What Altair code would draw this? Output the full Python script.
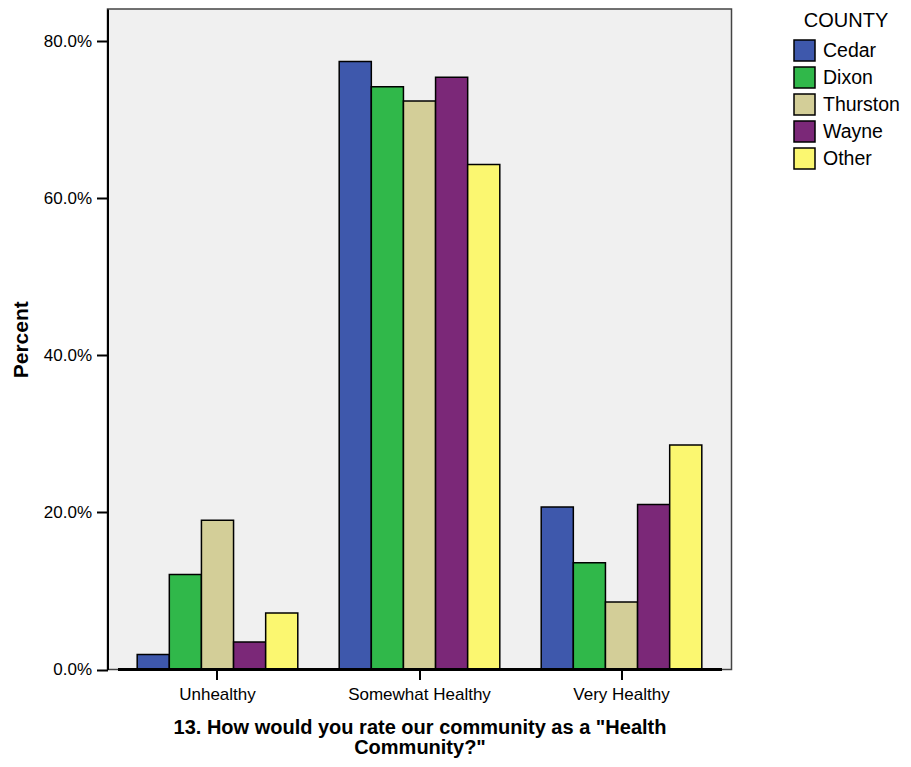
import altair as alt
import pandas as pd

categories = ["Unhealthy", "Somewhat Healthy", "Very Healthy"]
counties = ["Cedar", "Dixon", "Thurston", "Wayne", "Other"]
colors = ["#3e58ac", "#30b84a", "#d3ce98", "#7b2878", "#fbf770"]

cedar = [1.9, 77.4, 20.7]
dixon = [12.1, 74.2, 13.6]
thurston = [19.0, 72.4, 8.6]
wayne = [3.5, 75.4, 21.0]
other = [7.2, 64.3, 28.6]

series = {"Cedar": cedar, "Dixon": dixon, "Thurston": thurston, "Wayne": wayne, "Other": other}
rows = []
for county in counties:
    for cat, v in zip(categories, series[county]):
        rows.append({"category": cat, "county": county, "value": v})
df = pd.DataFrame(rows)

W, H = 624, 660.5

bars = alt.Chart(df).mark_bar(stroke="black", strokeWidth=1.5).encode(
    x=alt.X(
        "category:N",
        sort=categories,
        scale=alt.Scale(paddingInner=0.205, paddingOuter=0.147),
        axis=alt.Axis(
            title=['13. How would you rate our community as a "Health', 'Community?"'],
            titleFontSize=20,
            titleFontWeight="bold",
            titleLineHeight=20,
            titlePadding=15,
            labelFontSize=17,
            labelPadding=7,
            labelAngle=0,
            domain=False,
            tickColor="black",
            tickWidth=2,
            tickSize=10,
        ),
    ),
    xOffset=alt.XOffset("county:N", sort=counties, scale=alt.Scale(paddingInner=0, paddingOuter=0)),
    y=alt.Y(
        "value:Q",
        scale=alt.Scale(domain=[0, 84.1], nice=False),
        axis=alt.Axis(
            title="Percent",
            titleFontSize=21,
            titleFontWeight="bold",
            titlePadding=12,
            values=[0, 20, 40, 60, 80],
            labelExpr="format(datum.value, '.1f') + '%'",
            labelFontSize=17,
            labelPadding=5,
            grid=False,
            domainColor="black",
            domainWidth=2,
            tickColor="black",
            tickWidth=2,
            tickSize=11,
        ),
    ),
    color=alt.Color(
        "county:N",
        sort=counties,
        scale=alt.Scale(domain=counties, range=colors),
        legend=alt.Legend(
            title="COUNTY",
            orient="none",
            legendX=685.5,
            legendY=2,
            titleFontSize=20,
            titleFontWeight="normal",
            titleAnchor="middle",
            titlePadding=8,
            labelFontSize=19.5,
            labelOffset=7,
            symbolType="square",
            symbolSize=441,
            symbolStrokeColor="black",
            symbolStrokeWidth=1.5,
            symbolOpacity=1,
            rowPadding=0,
        ),
    ),
)

xline = alt.Chart(df).mark_rule(color="black", strokeWidth=2.5).encode(
    x=alt.value(10.5), x2=alt.value(614.5), y=alt.value(H)
)

chart = (
    alt.layer(bars, xline)
    .properties(
        width=W,
        height=H,
        autosize=alt.AutoSizeParams(type="none"),
        padding={"left": 99.5, "top": 1, "right": 171, "bottom": 89},
    )
    .configure_view(fill="#f0f0f0", stroke="#444444", strokeWidth=1.5)
    .configure_axis(labelFont="Liberation Sans", titleFont="Liberation Sans", labelColor="black", titleColor="black")
    .configure_legend(labelFont="Liberation Sans", titleFont="Liberation Sans", labelColor="black", titleColor="black")
)

chart.save("out.html", embed_options={"renderer": "svg", "actions": False})
